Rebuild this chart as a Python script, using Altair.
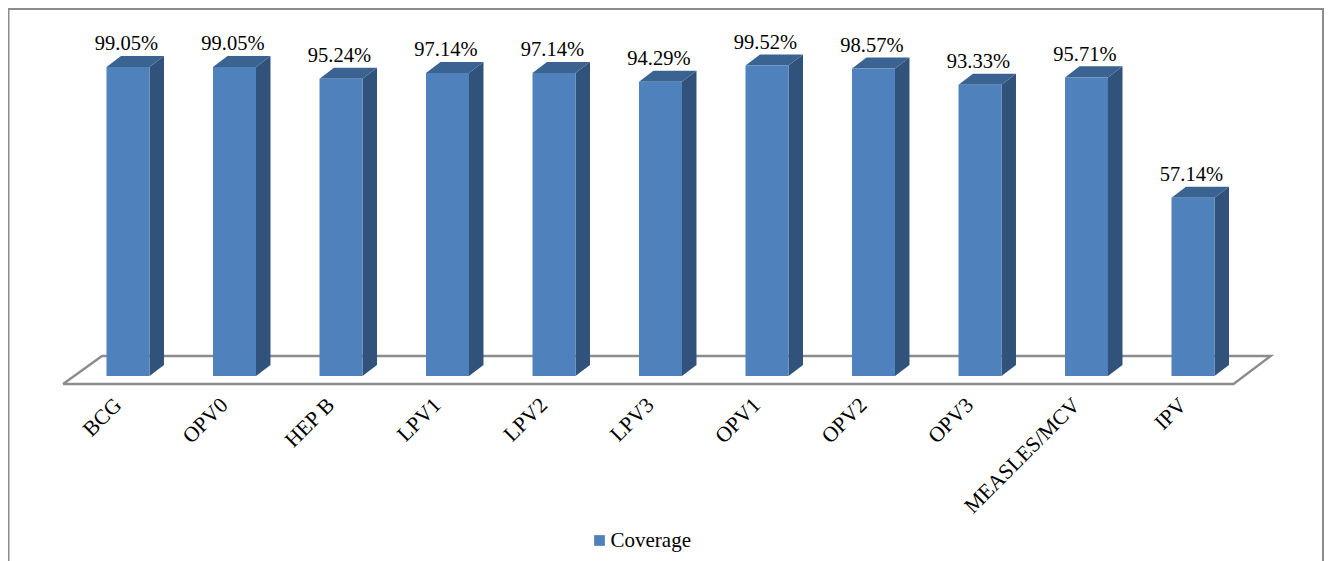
import altair as alt
import pandas as pd

categories = ["BCG", "OPV0", "HEP B", "LPV1", "LPV2", "LPV3", "OPV1", "OPV2", "OPV3", "MEASLES/MCV", "IPV"]
coverage = [99.05, 99.05, 95.24, 97.14, 97.14, 94.29, 99.52, 98.57, 93.33, 95.71, 57.14]
labels = ["99.05%", "99.05%", "95.24%", "97.14%", "97.14%", "94.29%", "99.52%", "98.57%", "93.33%", "95.71%", "57.14%"]
series_name = "Coverage"

half_w = 0.2019
depth_x = 0.136
depth_y = 3.53
floor_x = [-0.61, -0.244, 10.73, 10.38, -0.61]
floor_y = [-2.56, 6.41, 6.41, -2.56, -2.56]
label_y = -8.4

W, H = 1316, 553
xs = alt.Scale(domain=[-120 / 106.5, (W - 120) / 106.5], range=[0, W], nice=False, zero=False)
ys = alt.Scale(domain=[-(H - 368) / 3.12, 368 / 3.12], range=[H, 0], nice=False, zero=False)
X = lambda f: alt.X(f, type="quantitative", scale=xs, axis=None)
Y = lambda f: alt.Y(f, type="quantitative", scale=ys, axis=None)

front = pd.DataFrame({
    "i": range(len(categories)), "v": coverage, "cat": categories, "label": labels,
    "series": series_name, "base": 0.0, "ly": label_y,
})
front["xl"] = front.i - half_w
front["xr"] = front.i + half_w
front["lx"] = front.i - 0.015
front["cx"] = front.i - 0.09

side_rows, top_rows = [], []
for i, v in enumerate(coverage):
    xl, xr = i - half_w, i + half_w
    side_rows += [dict(i=i, x=xr, y=0.0, y2=v), dict(i=i, x=xr + depth_x, y=depth_y, y2=v + depth_y)]
    top_rows += [
        dict(i=i, x=xl, y=v, y2=v),
        dict(i=i, x=xl + depth_x, y=v, y2=v + depth_y),
        dict(i=i, x=xr, y=v, y2=v + depth_y),
        dict(i=i, x=xr + depth_x, y=v + depth_y, y2=v + depth_y),
    ]
side = pd.DataFrame(side_rows)
top = pd.DataFrame(top_rows)
floor = pd.DataFrame({"x": floor_x, "y": floor_y, "o": range(len(floor_x))})

FRAME = "#8c8c8c"
frame = [
    alt.Chart().mark_rule(color=FRAME, strokeWidth=2).encode(x=alt.value(0), x2=alt.value(W), y=alt.value(1)),
    alt.Chart().mark_rule(color=FRAME, strokeWidth=2).encode(x=alt.value(0.5), y=alt.value(0), y2=alt.value(H)),
    alt.Chart().mark_rule(color=FRAME, strokeWidth=2).encode(x=alt.value(W - 1), y=alt.value(0), y2=alt.value(H)),
]

floor_layer = alt.Chart(floor).mark_line(color=FRAME, strokeWidth=2.4).encode(
    x=X("x"), y=Y("y"), order="o:Q")
side_layer = alt.Chart(side).mark_area(color="#30527b", interpolate="linear").encode(
    x=X("x"), y=Y("y"), y2="y2:Q", detail="i:N")
top_layer = alt.Chart(top).mark_area(color="#3b6391", interpolate="linear").encode(
    x=X("x"), y=Y("y"), y2="y2:Q", detail="i:N")
bars = alt.Chart(front).mark_rect().encode(
    x=X("xl"), x2="xr:Q", y=Y("base"), y2="v:Q",
    color=alt.Color("series:N", scale=alt.Scale(domain=[series_name], range=["#4f81bd"]),
                    legend=alt.Legend(title=None, orient="none", legendX=581, legendY=522,
                                      symbolType="square", symbolSize=115, symbolStrokeWidth=0,
                                      labelFont="Liberation Serif", labelFontSize=21,
                                      labelColor="#000000", labelOffset=0.5, padding=0)))
value_text = alt.Chart(front).mark_text(
    font="Liberation Serif", fontSize=20.5, color="#000000", align="center", baseline="alphabetic", dy=-16.5
).encode(x=X("lx"), y=Y("v"), text="label:N")
cat_text = alt.Chart(front).mark_text(
    font="Liberation Serif", fontSize=21.5, color="#000000", align="right", baseline="middle", angle=315
).encode(x=X("cx"), y=Y("ly"), text="cat:N")

chart = alt.layer(*frame, floor_layer, side_layer, top_layer, bars, value_text, cat_text).properties(
    width=W, height=H, padding=0, autosize=alt.AutoSizeParams(type="none"), background="#ffffff"
).configure_view(stroke=None)

chart.save("out.html", embed_options={"renderer": "svg", "actions": False})
